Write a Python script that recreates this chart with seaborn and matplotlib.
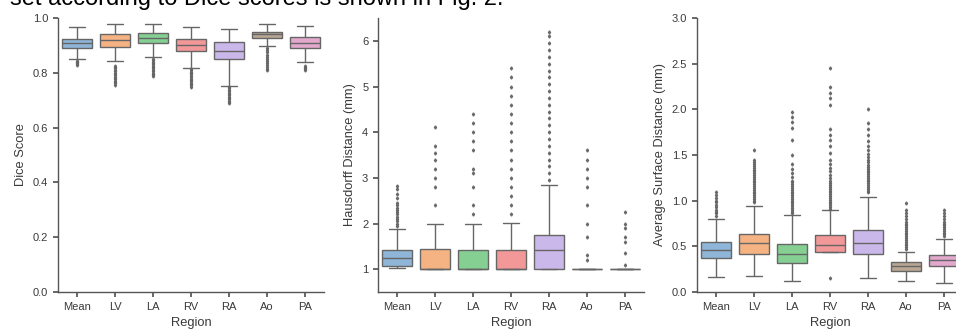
import matplotlib
matplotlib.use("Agg")
import matplotlib.pyplot as plt
import seaborn as sns
import pandas as pd

# ---------------- data ----------------
regions = ["Mean", "LV", "LA", "RV", "RA", "Ao", "PA"]
region_colors = ["#8fb5d8", "#f5b383", "#85cf93", "#f39898", "#cbb8ea", "#b9a794", "#e2a9cc"]

# five-number summaries per region: (lower whisker, Q1, median, Q3, upper whisker)
dice_stats = [
    (0.850, 0.892, 0.908, 0.922, 0.966),
    (0.843, 0.895, 0.920, 0.940, 0.978),
    (0.857, 0.908, 0.926, 0.944, 0.978),
    (0.818, 0.880, 0.901, 0.922, 0.968),
    (0.753, 0.849, 0.881, 0.914, 0.959),
    (0.897, 0.928, 0.940, 0.950, 0.977),
    (0.838, 0.889, 0.909, 0.929, 0.969),
]
dice_low_out = [
    [0.844, 0.841, 0.838, 0.835, 0.832, 0.828],
    [0.826, 0.821, 0.816, 0.811, 0.806, 0.801, 0.796, 0.791, 0.786, 0.781, 0.776, 0.771, 0.766, 0.761, 0.756],
    [0.851, 0.846, 0.841, 0.836, 0.831, 0.826, 0.821, 0.816, 0.811, 0.806, 0.801, 0.796, 0.791, 0.788],
    [0.814, 0.809, 0.804, 0.799, 0.794, 0.789, 0.784, 0.779, 0.774, 0.769, 0.764, 0.759, 0.754, 0.748],
    [0.748, 0.743, 0.738, 0.733, 0.728, 0.723, 0.718, 0.713, 0.708, 0.703, 0.698, 0.693, 0.690],
    [0.892, 0.885, 0.875, 0.866, 0.858, 0.850, 0.843, 0.836, 0.829, 0.822, 0.815, 0.810],
    [0.826, 0.822, 0.818, 0.814, 0.810],
]
dice_high_out = [[], [], [], [], [], [], []]

hd_stats = [
    (1.03, 1.08, 1.25, 1.42, 1.88),
    (1.00, 1.00, 1.00, 1.44, 2.00),
    (1.00, 1.00, 1.00, 1.42, 1.86),
    (1.00, 1.00, 1.00, 1.43, 2.02),
    (1.00, 1.00, 1.42, 1.75, 2.85),
    (1.00, 1.00, 1.00, 1.00, 1.00),
    (1.00, 1.00, 1.00, 1.00, 1.00),
]
hd_low_out = [[], [], [], [], [], [], []]
hd_high_out = [
    [1.95, 2.0, 2.05, 2.1, 2.15, 2.2, 2.25, 2.3, 2.35, 2.4, 2.45, 2.55, 2.65, 2.75, 2.82],
    [2.40, 2.80, 3.00, 3.20, 3.40, 3.55, 3.70, 4.12],
    [2.00, 2.20, 2.40, 2.80, 3.10, 3.20, 3.60, 3.80, 4.00, 4.20, 4.40],
    [2.20, 2.40, 2.60, 2.80, 3.00, 3.20, 3.40, 3.60, 3.80, 4.00, 4.20, 4.40, 4.60,
     4.80, 5.00, 5.20, 5.40],
    [2.95, 3.10, 3.25, 3.40, 3.55, 3.70, 3.85, 4.00, 4.15, 4.30, 4.45, 4.60, 4.75,
     4.90, 5.05, 5.20, 5.35, 5.50, 5.65, 5.80, 5.95, 6.10, 6.20],
    [1.20, 1.30, 1.70, 2.00, 2.40, 2.80, 3.00, 3.20, 3.40, 3.60],
    [1.10, 1.35, 1.60, 1.70, 1.90, 2.00, 2.25],
]

asd_stats = [
    (0.16, 0.376, 0.46, 0.55, 0.80),
    (0.18, 0.42, 0.54, 0.64, 0.945),
    (0.12, 0.32, 0.42, 0.53, 0.84),
    (0.15, 0.435, 0.515, 0.62, 0.895),
    (0.15, 0.415, 0.54, 0.68, 1.04),
    (0.12, 0.235, 0.28, 0.325, 0.44),
    (0.10, 0.28, 0.35, 0.41, 0.585),
]
asd_low_out = [[], [], [], [], [], [], []]
asd_high_out = [
    [0.83, 0.86, 0.88, 0.90, 0.93, 0.95, 0.98, 1.00, 1.03, 1.06, 1.09],
    [0.98, 1.00, 1.02, 1.04, 1.06, 1.08, 1.10, 1.12, 1.14, 1.16, 1.18, 1.20, 1.22,
     1.24, 1.26, 1.28, 1.30, 1.32, 1.34, 1.36, 1.38, 1.40, 1.42, 1.45, 1.56],
    [0.86, 0.88, 0.90, 0.92, 0.94, 0.96, 0.98, 1.00, 1.02, 1.04, 1.06, 1.08, 1.10,
     1.12, 1.14, 1.16, 1.18, 1.20, 1.22, 1.26, 1.30, 1.35, 1.40, 1.50, 1.66, 1.80,
     1.86, 1.92, 1.97],
    [0.91, 0.93, 0.95, 0.97, 0.99, 1.01, 1.03, 1.05, 1.07, 1.09, 1.11, 1.13, 1.15,
     1.17, 1.19, 1.22, 1.25, 1.28, 1.32, 1.36, 1.40, 1.45, 1.52, 1.60, 1.66, 1.72,
     1.78, 2.05, 2.12, 2.18, 2.25, 2.45],
    [1.09, 1.11, 1.13, 1.15, 1.17, 1.19, 1.21, 1.23, 1.25, 1.27, 1.29, 1.31, 1.33,
     1.35, 1.37, 1.39, 1.42, 1.45, 1.48, 1.51, 1.55, 1.60, 1.65, 1.72, 1.78, 1.85,
     2.00],
    [0.47, 0.49, 0.51, 0.53, 0.55, 0.57, 0.59, 0.61, 0.63, 0.65, 0.67, 0.69, 0.71,
     0.73, 0.75, 0.77, 0.80, 0.83, 0.86, 0.90, 0.97],
    [0.61, 0.63, 0.65, 0.67, 0.69, 0.71, 0.73, 0.75, 0.77, 0.80, 0.83, 0.86, 0.90],
]

caption = "set according to Dice scores is shown in Fig. 2."


# ------------- expand summaries into samples with exactly those quartiles -------------
def expand(stats, low_out, high_out):
    wlo, q1, med, q3, whi = stats
    n_lo = len(low_out) + 1
    n_hi = len(high_out) + 1
    a = 2 * max(n_lo, n_hi) + 4
    b = a + n_lo - n_hi
    return list(low_out) + [wlo] + [q1] * a + [med] + [q3] * b + [whi] + list(high_out)


def make_frame(stats, lows, highs, name):
    rows = []
    for reg, s, lo, hi in zip(regions, stats, lows, highs):
        for v in expand(s, lo, hi):
            rows.append((reg, v))
    return pd.DataFrame(rows, columns=["Region", name])


df_dice = make_frame(dice_stats, dice_low_out, dice_high_out, "Dice Score")
df_hd = make_frame(hd_stats, hd_low_out, hd_high_out, "Hausdorff Distance (mm)")
df_asd = make_frame(asd_stats, asd_low_out, asd_high_out, "Average Surface Distance (mm)")

# ---------------- figure ----------------
sns.set_theme(style="ticks")
plt.rcParams["font.family"] = ["Liberation Sans", "DejaVu Sans"]
text_col = "#3a3a3a"
plt.rcParams.update({
    "axes.edgecolor": "#555555",
    "axes.linewidth": 1.0,
    "xtick.color": "#555555",
    "ytick.color": "#555555",
    "xtick.labelcolor": text_col,
    "ytick.labelcolor": text_col,
    "axes.labelcolor": text_col,
    "xtick.labelsize": 8,
    "ytick.labelsize": 8,
    "axes.labelsize": 9.3,
    "xtick.major.size": 3.5,
    "ytick.major.size": 3.5,
})

W, H = 956, 329
fig = plt.figure(figsize=(W / 100, H / 100), dpi=100)

def px_axes(left, right, top, bottom):
    return fig.add_axes([left / W, 1 - bottom / H, (right - left) / W, (bottom - top) / H])

ax1 = px_axes(58, 324, 18, 292)
ax2 = px_axes(378, 644, 18, 292)
ax3 = px_axes(697, 963, 18, 292)

pal = dict(zip(regions, region_colors))
common = dict(x="Region", order=regions, hue="Region", hue_order=regions,
              palette=pal, saturation=1, legend=False, width=0.8, linewidth=1.0,
              linecolor="#666666",
              fliersize=1.6, flierprops=dict(marker="d"))

sns.boxplot(data=df_dice, y="Dice Score", ax=ax1, **common)
sns.boxplot(data=df_hd, y="Hausdorff Distance (mm)", ax=ax2, **common)
sns.boxplot(data=df_asd, y="Average Surface Distance (mm)", ax=ax3, **common)

ax1.set_ylim(0, 1.0)
ax1.set_yticks([0.0, 0.2, 0.4, 0.6, 0.8, 1.0])
ax2.set_ylim(0.5, 6.5)
ax2.set_yticks([1, 2, 3, 4, 5, 6])
ax3.set_ylim(0, 3.0)
ax3.set_yticks([0.0, 0.5, 1.0, 1.5, 2.0, 2.5, 3.0])

for ax in (ax1, ax2, ax3):
    ax.set_xlim(-0.5, 6.5)
    ax.set_xlabel("Region")
    sns.despine(ax=ax)

fig.text(10 / W, 1 - 4.5 / H, caption, fontsize=17, color="black",
         ha="left", va="baseline")

fig.savefig("out.png", dpi=100)
